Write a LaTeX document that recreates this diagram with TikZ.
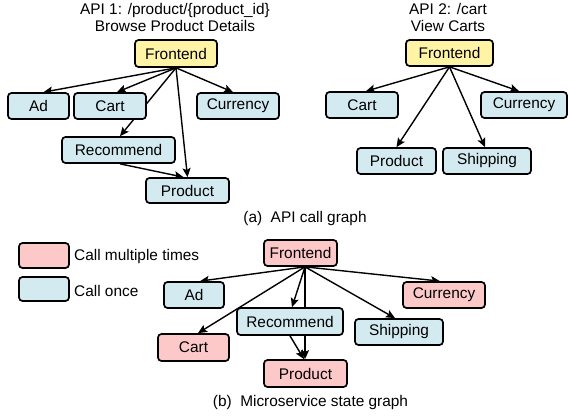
\documentclass[tikz,border=0pt]{standalone}
\usepackage{fontspec}
\setmainfont{Liberation Sans}
\usetikzlibrary{arrows.meta,backgrounds}
\definecolor{fyellow}{HTML}{FFF4A6}
\definecolor{fblue}{HTML}{D3EAF0}
\definecolor{fpink}{HTML}{FCC8C8}
\tikzset{
  svc/.style={draw=black, line width=1.7pt, rounded corners=3.5pt, inner sep=0pt,
    minimum height=26pt, font=\fontsize{15.4}{17}\selectfont},
  entry/.style={svc, fill=fyellow},
  once/.style={svc, fill=fblue},
  multi/.style={svc, fill=fpink},
  lbl/.style={inner sep=0pt, font=\fontsize{15.4}{17}\selectfont, align=center},
  call/.style={line width=1.4pt, -{Stealth[length=9pt,width=8pt,inset=1.8pt]}}
}
\begin{document}
\begin{tikzpicture}[x=1pt,y=1pt]
\useasboundingbox (0,0) rectangle (568,-419);

% ---------- (a) API 1 ----------
\node[lbl] (t1) at (175,-17.5) {API 1: /product/\{product\_id\}\\Browse Product Details};
\node[entry, minimum width=82pt, minimum height=27pt] (f1) at (176,-53.5) {Frontend};
\node[once, minimum width=61pt] (ad1) at (38.5,-106) {Ad};
\node[once, minimum width=72pt] (cart1) at (110,-106) {Cart};
\node[once, minimum width=82pt] (cur1) at (238,-106) {Currency};
\node[once, minimum width=113pt] (rec1) at (118.5,-150) {Recommend};
\node[once, minimum width=83pt, minimum height=25pt] (prod1) at (187.5,-190.5) {Product};

% ---------- (a) API 2 ----------
\node[lbl] (t2) at (448,-17.5) {API 2: /cart\\View Carts};
\node[entry, minimum width=87pt] (f2) at (449.5,-53) {Frontend};
\node[once, minimum width=72pt] (cart2) at (362,-105) {Cart};
\node[once, minimum width=86pt] (cur2) at (524,-105) {Currency};
\node[once, minimum width=79pt] (prod2) at (396.5,-161) {Product};
\node[once, minimum width=88pt] (ship2) at (487,-161) {Shipping};

\node[lbl] (capa) at (305,-219) {(a)\ \ API call graph};

% ---------- legend ----------
\node[multi, minimum width=50pt, minimum height=25pt] (legm) at (44,-255.5) {};
\node[lbl, anchor=west] (legmt) at (74,-257) {Call multiple times};
\node[once, minimum width=50pt, minimum height=24pt] (lego) at (44,-289) {};
\node[lbl, anchor=west] (legot) at (74,-291) {Call once};

% ---------- (b) state graph ----------
\node[multi, minimum width=73pt] (f3) at (300.5,-253) {Frontend};
\node[once, minimum width=60pt] (ad3) at (194,-295) {Ad};
\node[once, minimum width=106pt, minimum height=27pt] (rec3) at (290,-321.5) {Recommend};
\node[multi, minimum width=71pt, minimum height=27pt] (cart3) at (193.5,-347.5) {Cart};
\node[multi, minimum width=83pt, minimum height=27pt] (prod3) at (305.5,-373.5) {Product};
\node[multi, minimum width=82pt] (cur3) at (444,-295) {Currency};
\node[once, minimum width=88pt] (ship3) at (399,-332) {Shipping};

\node[lbl] (capb) at (310.5,-403) {(b)\ \ Microservice state graph};

% ---------- calls, drawn under the boxes ----------
\begin{scope}[on background layer]
  \draw[call] (f1.south) -- ([xshift=5pt]ad1.north);
  \draw[call] (f1.south) -- ([xshift=7pt]cart1.north);
  \draw[call] (f1.south) -- ([xshift=-5pt]cur1.north);
  \draw[call] (f1.south) -- ([xshift=1.5pt]rec1.north);
  \draw[call] (f1.south) -- (prod1.north);
  \draw[call] ([xshift=1.5pt]rec1.south) -- ([xshift=-4pt]prod1.north);

  \draw[call] (f2.south) -- ([xshift=4pt]cart2.north);
  \draw[call] (f2.south) -- ([xshift=-5pt]cur2.north);
  \draw[call] (f2.south) -- (prod2.north);
  \draw[call] (f2.south) -- ([xshift=-2pt]ship2.north);

  \coordinate (fs3) at ([xshift=4.5pt]f3.south);
  \draw[call] (fs3) -- ([xshift=6pt]ad3.north);
  \draw[call] (fs3) -- ([xshift=4.5pt]cart3.north);
  \draw[call] (fs3) -- ([xshift=2pt]rec3.north);
  \draw[call] (fs3) -- ([xshift=-0.5pt]prod3.north);
  \draw[call] (rec3.south) -- ([xshift=-1.5pt]prod3.north);
  \draw[call] (fs3) -- ([xshift=-4pt]cur3.north);
  \draw[call] (fs3) -- ([xshift=-4pt]ship3.north);
\end{scope}
\end{tikzpicture}
\end{document}
